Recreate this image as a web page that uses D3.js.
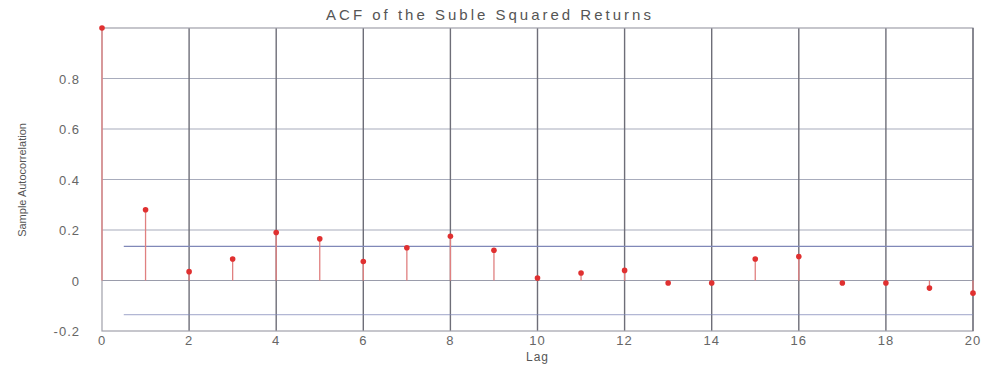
<!DOCTYPE html>
<html><head><meta charset="utf-8">
<script src="https://cdn.jsdelivr.net/npm/d3@7"></script>
<style>body{margin:0;background:#fff}svg{display:block}</style>
</head><body>
<script>
const lags = d3.range(0, 21);
const acf = [1.0, 0.28, 0.035, 0.085, 0.19, 0.165, 0.075, 0.13, 0.175, 0.12, 0.01, 0.03, 0.04, -0.01, -0.01, 0.085, 0.095, -0.01, -0.01, -0.03, -0.05];
const bound = 0.135;
const xTicks = [0, 2, 4, 6, 8, 10, 12, 14, 16, 18, 20];
const yTicks = [-0.2, 0, 0.2, 0.4, 0.6, 0.8];
const yTickLabels = ["-0.2", "0", "0.2", "0.4", "0.6", "0.8"];
const title = "ACF of the Suble Squared Returns";
const xLabel = "Lag";
const yLabel = "Sample Autocorrelation";

const W = 989, H = 368;
const svg = d3.select("body").append("svg").attr("width", W).attr("height", H);
const x = d3.scaleLinear().domain([0, 20]).range([102, 973]);
const y = d3.scaleLinear().domain([-0.2, 1.0]).range([331, 28]);

// horizontal grid
svg.append("g").selectAll("line").data(yTicks.filter(v => v > 0)).join("line")
  .attr("x1", x(0)).attr("x2", x(20)).attr("y1", d => y(d)).attr("y2", d => y(d))
  .attr("stroke", "#a8acbc").attr("stroke-width", 1.2);
// zero line
svg.append("line").attr("x1", x(0)).attr("x2", x(20)).attr("y1", y(0)).attr("y2", y(0))
  .attr("stroke", "#9a9cab").attr("stroke-width", 1.2);
// vertical grid
svg.append("g").selectAll("line").data(xTicks.filter(v => v > 0 && v < 20)).join("line")
  .attr("x1", d => x(d)).attr("x2", d => x(d)).attr("y1", y(1)).attr("y2", y(-0.2))
  .attr("stroke", "#6e6e78").attr("stroke-width", 1.4);
// box
svg.append("rect").attr("x", x(0)).attr("y", y(1)).attr("width", x(20) - x(0)).attr("height", y(-0.2) - y(1))
  .attr("fill", "none").attr("stroke", "#a0a0aa").attr("stroke-width", 1.2);
svg.append("line").attr("x1", x(20)).attr("x2", x(20)).attr("y1", y(1)).attr("y2", y(-0.2))
  .attr("stroke", "#6e6e78").attr("stroke-width", 1.4);

// confidence bounds
svg.append("g").selectAll("line").data([bound, -bound]).join("line")
  .attr("x1", x(0.5)).attr("x2", x(20)).attr("y1", d => y(d)).attr("y2", d => y(d))
  .attr("stroke", "#8088b8").attr("stroke-width", 1.2)
  .attr("opacity", d => d > 0 ? 1 : 0.6);

// stems
const pts = lags.map((l, i) => ({lag: l, v: acf[i]}));
svg.append("g").selectAll("line").data(pts).join("line")
  .attr("x1", d => x(d.lag)).attr("x2", d => x(d.lag)).attr("y1", y(0)).attr("y2", d => y(d.v))
  .attr("stroke", "#e08080").attr("stroke-width", 1.3);
svg.append("g").selectAll("circle").data(pts).join("circle")
  .attr("cx", d => x(d.lag)).attr("cy", d => y(d.v)).attr("r", 2.8)
  .attr("fill", "#e03030");

// axes tick labels
const tf = "Liberation Sans, Arial, sans-serif";
svg.append("g").selectAll("text").data(xTicks).join("text")
  .attr("x", d => x(d)).attr("y", 345).attr("text-anchor", "middle")
  .attr("font-family", tf).attr("font-size", 13).attr("letter-spacing", 1).attr("fill", "#666").text(d => d);
svg.append("g").selectAll("text").data(yTicks).join("text")
  .attr("x", 80).attr("y", d => y(d) + 5).attr("text-anchor", "end")
  .attr("font-family", tf).attr("font-size", 13).attr("letter-spacing", 1).attr("fill", "#666").text((d, i) => yTickLabels[i]);

svg.append("text").attr("x", 490).attr("y", 20).attr("text-anchor", "middle")
  .attr("font-family", tf).attr("font-size", 15).attr("letter-spacing", 3).attr("fill", "#555").text(title);
svg.append("text").attr("x", x(10)).attr("y", 361).attr("text-anchor", "middle")
  .attr("font-family", tf).attr("font-size", 12).attr("letter-spacing", 1).attr("fill", "#555").text(xLabel);
svg.append("text").attr("transform", "translate(26,180) rotate(-90)").attr("text-anchor", "middle")
  .attr("font-family", tf).attr("font-size", 11).attr("fill", "#555").text(yLabel);
</script>
</body></html>
